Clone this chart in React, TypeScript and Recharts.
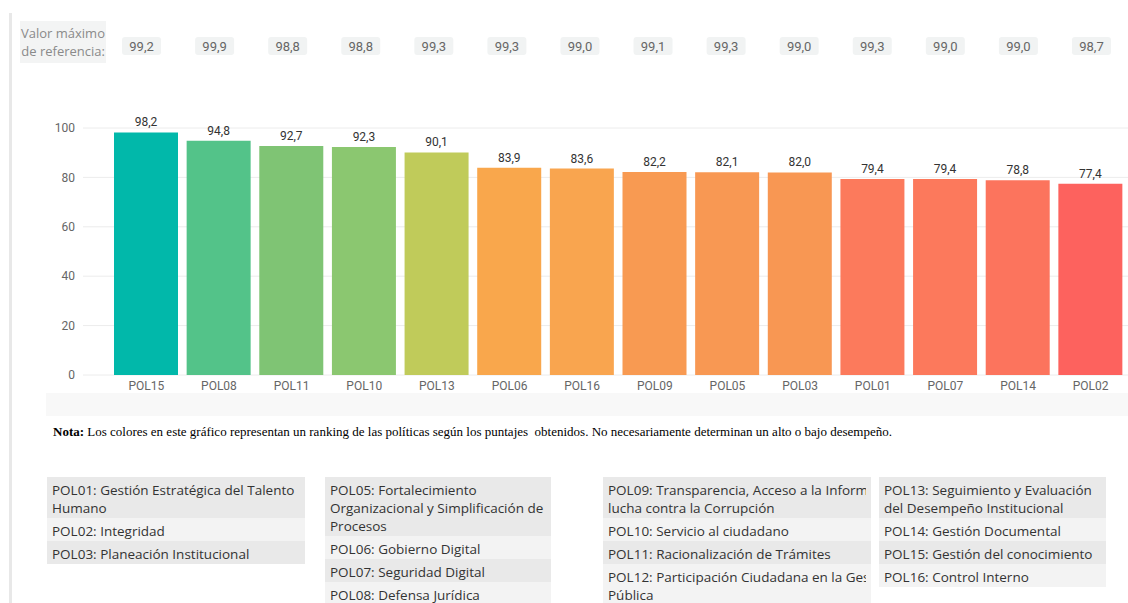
import React from 'react';
import { BarChart, Bar, XAxis, YAxis, CartesianGrid, Cell, LabelList } from 'recharts';

const categories = ['POL15', 'POL08', 'POL11', 'POL10', 'POL13', 'POL06', 'POL16', 'POL09', 'POL05', 'POL03', 'POL01', 'POL07', 'POL14', 'POL02'];
const scores = [98.2, 94.8, 92.7, 92.3, 90.1, 83.9, 83.6, 82.2, 82.1, 82.0, 79.4, 79.4, 78.8, 77.4];
const refMax = [99.2, 99.9, 98.8, 98.8, 99.3, 99.3, 99.0, 99.1, 99.3, 99.0, 99.3, 99.0, 99.0, 98.7];
const barColors = ['#01B8AA', '#53C389', '#7FC474', '#8BC770', '#C0CB5A', '#F9A74C', '#F9A54F', '#F89A52', '#F89853', '#F89753', '#FC7A5C', '#FC795C', '#FC745D', '#FD625E'];
const yTicks = [0, 20, 40, 60, 80, 100];

const table1 = [
  ['POL01: Gestión Estratégica del Talento', 'Humano'],
  ['POL02: Integridad'],
  ['POL03: Planeación Institucional'],
];
const table2 = [
  ['POL05: Fortalecimiento', 'Organizacional y Simplificación de', 'Procesos'],
  ['POL06: Gobierno Digital'],
  ['POL07: Seguridad Digital'],
  ['POL08: Defensa Jurídica'],
];
const table3 = [
  ['POL09: Transparencia, Acceso a la Información y', 'lucha contra la Corrupción'],
  ['POL10: Servicio al ciudadano'],
  ['POL11: Racionalización de Trámites'],
  ['POL12: Participación Ciudadana en la Gestión', 'Pública'],
];
const table4 = [
  ['POL13: Seguimiento y Evaluación', 'del Desempeño Institucional'],
  ['POL14: Gestión Documental'],
  ['POL15: Gestión del conocimiento'],
  ['POL16: Control Interno'],
];

const data = categories.map((pol, i) => ({ pol, value: scores[i], maxRef: refMax[i] }));
const refByPol: Record<string, number> = {};
categories.forEach((c, i) => { refByPol[c] = refMax[i]; });

const fmt = (v: number) => v.toFixed(1).replace('.', ',');
const chartFont = 'Roboto, "DejaVu Sans", sans-serif';
const uiFont = '"Open Sans", "Noto Sans", sans-serif';

const renderRefChip = (props: any) => {
  const { x, payload } = props;
  const v = refByPol[payload.value];
  return (
    <g key={`chip-${payload.value}`}>
      <rect x={x - 19.5} y={37} width={39} height={18} rx={3} fill="#F1F3F3" />
      <text x={x} y={46} textAnchor="middle" dominantBaseline="central" fontSize={13} fill="#666" fontFamily={chartFont}>
        {v !== undefined ? fmt(v) : ''}
      </text>
    </g>
  );
};

const Table = ({ rows, left, width }: { rows: string[][]; left: number; width: number }) => (
  <div style={{ position: 'absolute', left, top: 477, width, fontFamily: uiFont, fontSize: 13.5, color: '#333' }}>
    {rows.map((lines, i) => (
      <div
        key={i}
        style={{
          background: i % 2 === 0 ? '#E9E9E9' : '#F3F3F3',
          padding: '4px 5px 1px 5px',
          lineHeight: '18px',
          whiteSpace: 'nowrap',
          overflow: 'hidden',
        }}
      >
        {lines.map((l, j) => (
          <div key={j} style={{ overflow: 'hidden' }}>{l}</div>
        ))}
      </div>
    ))}
  </div>
);

export default function App() {
  return (
    <div style={{ position: 'absolute', left: 0, top: 0, width: 1128, height: 603, overflow: 'hidden', background: '#fff' }}>
      <div style={{ position: 'absolute', left: 9, top: 13, width: 3, height: 590, background: '#E8E8E8' }} />
      <div
        style={{
          position: 'absolute', left: 20, top: 21, padding: '3px 1px', background: '#F3F4F4',
          fontFamily: uiFont, fontSize: 13, lineHeight: '18px', color: '#8A8A8A', textAlign: 'right', whiteSpace: 'nowrap',
        }}
      >
        <div>Valor máximo</div>
        <div>de referencia:</div>
      </div>
      <div style={{ position: 'absolute', left: 46, top: 393, width: 1082, height: 23, background: '#F8F8F8' }} />
      <div style={{ position: 'absolute', left: 0, top: 0 }}>
        <BarChart width={1128} height={410} data={data} margin={{ top: 46, right: 0, bottom: 5, left: 0 }}>
          <CartesianGrid vertical={false} stroke="#ECECEC" />
          <XAxis
            xAxisId="top"
            orientation="top"
            dataKey="pol"
            height={82}
            axisLine={false}
            tickLine={false}
            padding={{ left: 22, right: 0 }}
            interval={0}
            tick={renderRefChip}
          />
          <XAxis
            dataKey="pol"
            axisLine={false}
            tickLine={false}
            tickSize={4}
            tickMargin={2}
            height={30}
            interval={0}
            padding={{ left: 27, right: 1 }}
            tick={{ fontSize: 12, fill: '#666', fontFamily: chartFont }}
          />
          <YAxis
            domain={[0, 100]}
            ticks={yTicks}
            width={83}
            axisLine={false}
            tickLine={false}
            tick={{ fontSize: 12, fill: '#666', fontFamily: chartFont }}
          />
          <Bar dataKey="value" barSize={64} isAnimationActive={false}>
            {data.map((d, i) => (
              <Cell key={d.pol} fill={barColors[i]} />
            ))}
            <LabelList
              dataKey="value"
              position="top"
              offset={6}
              formatter={(v: any) => fmt(Number(v))}
              style={{ fontSize: 12, fill: '#333', fontFamily: chartFont }}
            />
          </Bar>
        </BarChart>
      </div>
      <div style={{ position: 'absolute', left: 53, top: 424, fontFamily: '"Liberation Serif", "Times New Roman", serif', fontSize: 13, color: '#000', whiteSpace: 'pre', lineHeight: '16px' }}>
        <b>Nota:</b>{' Los colores en este gráfico representan un ranking de las políticas según los puntajes  obtenidos. No necesariamente determinan un alto o bajo desempeño.'}
      </div>
      <Table rows={table1} left={47} width={258} />
      <Table rows={table2} left={325} width={226} />
      <Table rows={table3} left={603} width={268} />
      <Table rows={table4} left={879} width={227} />
    </div>
  );
}
